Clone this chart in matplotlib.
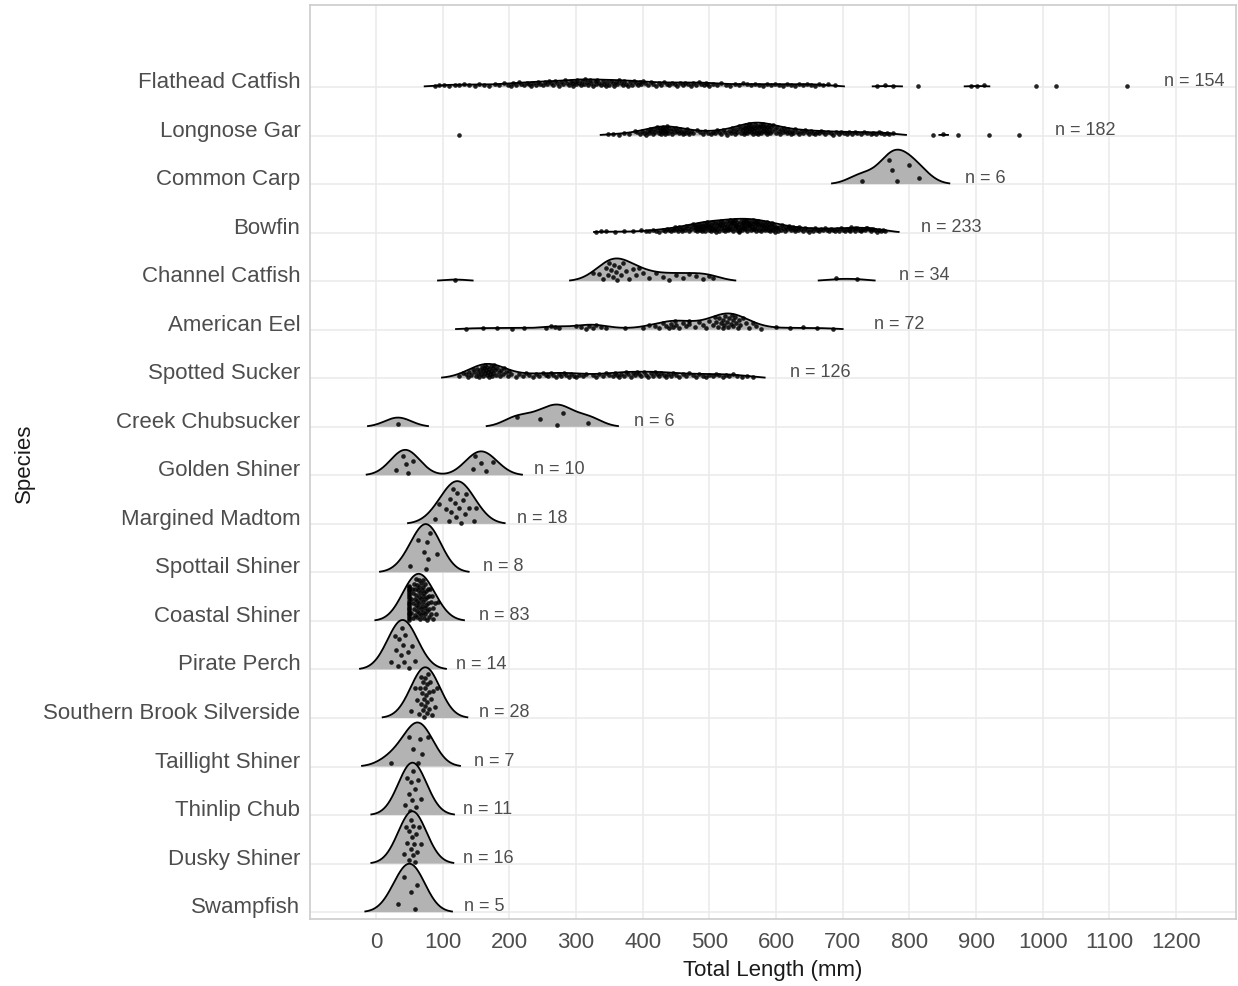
import matplotlib.pyplot as plt
import numpy as np

plt.rcParams['font.family'] = ['Liberation Sans', 'DejaVu Sans']

# species from top row to bottom row
species = ['Flathead Catfish', 'Longnose Gar', 'Common Carp', 'Bowfin',
           'Channel Catfish', 'American Eel', 'Spotted Sucker', 'Creek Chubsucker',
           'Golden Shiner', 'Margined Madtom', 'Spottail Shiner', 'Coastal Shiner',
           'Pirate Perch', 'Southern Brook Silverside', 'Taillight Shiner',
           'Thinlip Chub', 'Dusky Shiner', 'Swampfish']

# total lengths (mm)
flathead_catfish = [
    88, 95, 102, 110, 118, 125, 132, 140, 148, 155, 162, 170, 178, 185, 192, 198,
    202, 206, 210, 214, 218, 222, 226, 229, 232, 236, 240, 243, 246, 250, 253, 256,
    260, 263, 266, 269, 272, 275, 278, 281, 284, 287, 290, 292, 294, 296, 298, 300,
    302, 304, 307, 309, 312, 314, 316, 318, 321, 323, 325, 328, 330, 332, 335, 337,
    340, 342, 345, 347, 350, 352, 355, 357, 360, 362, 365, 367, 370, 372, 375, 378,
    381, 384, 387, 390, 393, 396, 398, 400,
    404, 408, 412, 416, 420, 424, 428, 432, 436, 440, 444, 448, 452, 456, 460, 464,
    468, 472, 476, 480, 484, 488, 492, 495, 497, 500,
    505, 512, 518, 525, 531, 538, 544, 550, 556, 562, 568, 574, 580, 586, 592, 598,
    604, 610, 616, 622, 628, 634, 640, 646, 652, 658, 664, 670, 678, 688,
    752, 764, 776, 813, 893, 901, 912, 990, 1020, 1127]
longnose_gar = [
    125, 348, 356, 364, 372, 380, 388,
    392, 396, 399, 402, 405, 407, 409, 411, 413, 415, 417, 419, 421, 423, 425, 426,
    427, 428, 429, 430, 431, 432, 433, 434, 435, 436, 437, 438, 440, 442, 444, 446,
    448, 450, 452, 454, 456, 458, 460, 462, 464, 466, 468, 470, 472,
    476, 481, 486, 490, 494, 498, 502, 505, 508, 511,
    514, 518, 521, 524, 527, 530, 532, 534, 536, 538, 540, 542, 544, 546, 548, 550,
    551, 552, 553, 554, 555, 556, 557, 558, 559, 560, 561, 562, 563, 564, 565, 566,
    567, 568, 569, 570, 571, 572, 573, 574, 575, 576, 577, 578, 579, 580, 581, 582,
    583, 584, 585, 586, 587, 588, 589, 590, 591, 592, 594, 596, 598, 600, 602, 604,
    606, 608, 610, 612, 614, 616, 618, 620, 622, 624, 626, 628, 631, 634, 637, 640,
    643, 646, 649, 652, 655, 658, 661, 664, 667, 670,
    674, 678, 682, 686, 690, 694, 698, 702, 706, 710, 714, 718, 722, 727, 732, 737,
    742, 746, 750, 754, 758, 762, 766, 770, 776,
    836, 851, 873, 919, 964]
common_carp = [729, 770, 774, 781, 800, 814]
bowfin = [
    330, 337, 345, 358, 372, 385, 397, 405, 410, 415, 420, 425,
    430, 433, 436, 439, 442, 445, 447, 449, 451, 453, 455, 457, 459, 461, 463, 465,
    467, 469, 471, 473, 475, 477, 478, 479, 480, 481, 482, 483, 484, 485, 486, 487,
    488, 489, 490, 491, 492, 493, 494, 495, 496, 497, 498, 499, 500,
    501, 502, 503, 504, 505, 506, 507, 508, 509, 510, 511, 512, 513, 514, 515, 516,
    517, 518, 519, 520, 521, 522, 523, 524, 525, 526, 527, 528, 529, 530, 531, 532,
    533, 534, 535, 536, 537, 538, 539, 540, 541, 542, 543, 544, 545, 546, 547, 548,
    549, 550, 551, 552, 553, 554, 555, 556, 557, 558, 559, 560, 561, 562, 563, 564,
    565, 566, 567, 568, 569, 570, 571, 572, 573, 574, 575, 576, 577, 578, 579, 580,
    581, 582, 583, 584, 585, 586, 587, 588, 589, 590, 591, 592, 593, 594, 595, 596,
    597, 598, 599, 600, 530, 535, 540, 545, 550, 552, 555, 560, 565, 570,
    601, 603, 605, 607, 609, 611, 613, 615, 617, 619, 621, 623, 625, 627, 629, 631,
    633, 635, 637, 640, 643, 646, 649, 652, 655, 658, 661, 664, 667, 670, 673, 676,
    679, 682, 685, 688, 691, 694, 697, 700, 703, 706,
    709, 712, 715, 718, 721, 724, 727, 730, 733, 736, 739, 742, 745, 748, 751, 754,
    757, 760, 763, 711, 719, 727, 735, 743]
channel_catfish = [
    119, 325, 335, 340, 345, 348, 350, 352, 355, 357, 360, 362, 365, 368, 370, 375,
    380, 385, 390, 395, 400, 410, 420, 430, 440, 450, 460, 470, 480, 490, 500, 505,
    690, 722]
american_eel = [
    135, 160, 182, 204, 222, 255, 262, 268, 275,
    300, 308, 315, 320, 325, 330, 338, 345, 373,
    400, 410, 418, 425, 430, 435, 440, 442, 445, 448, 450, 455, 460, 465, 470, 470,
    478, 485, 490, 495, 500, 505, 508, 510, 513, 515, 518, 520, 520, 522, 524, 526,
    528, 530, 532, 534, 535, 536, 538, 540, 543, 545, 546, 550, 555, 560, 565, 570,
    578, 600, 621, 640, 661, 685]
spotted_sucker = [
    125, 130, 135, 138, 140, 142, 145, 147, 150, 152, 153, 155, 156, 158, 159, 160,
    161, 162, 163, 164, 165, 166, 167, 168, 169, 170, 171, 172, 173, 174, 175, 176,
    177, 178, 180, 182, 184, 186, 188, 190, 192, 195, 198, 200, 203,
    210, 215, 220, 225, 230, 235, 240, 245, 250, 255, 258, 262, 265, 270, 275, 278,
    282, 285, 290, 293, 297, 300, 305, 310, 315,
    325, 330, 335, 340, 345, 350, 355, 358, 362, 365, 368, 372, 375, 378, 382, 385,
    388, 392, 395, 398, 402, 405, 408, 412, 415, 418, 422, 425, 428, 432, 435, 438,
    442, 445, 450, 455, 460, 465, 470, 475, 480, 485, 490, 495, 500,
    505, 510, 515, 520, 525, 530, 536, 542, 549, 557, 566]
creek_chubsucker = [33, 211, 246, 271, 281, 318]
golden_shiner = [30, 40, 45, 48, 55, 145, 148, 158, 165, 175]
margined_madtom = [88, 95, 105, 110, 111, 113, 115, 118, 120, 122, 125, 128, 130,
                   133, 135, 140, 147, 150]
spottail_shiner = [51, 63, 72, 75, 77, 78, 81, 91]
coastal_shiner = [
    50, 50, 50, 50, 50, 50, 50, 50, 50, 50, 50, 50, 50, 50, 50, 50, 50, 50, 50, 50,
    52, 53, 54, 55, 55, 56, 57, 57, 58, 58, 59, 60, 60, 60, 61, 61, 62, 62, 63, 63,
    64, 64, 65, 65, 65, 66, 66, 67, 67, 68, 68, 69, 69, 70, 70, 70, 71, 71, 72, 72,
    73, 73, 74, 74, 75, 75, 76, 76, 77, 78, 78, 79, 80, 80, 81, 82, 83, 84, 85, 86,
    88, 90, 93]
pirate_perch = [22, 28, 30, 33, 35, 37, 39, 40, 42, 44, 48, 50, 54, 58]
southern_brook_silverside = [52, 58, 62, 64, 66, 67, 68, 69, 70, 71, 72, 72, 73, 74,
                             74, 75, 76, 76, 77, 78, 79, 80, 81, 82, 84, 86, 88, 92]
taillight_shiner = [23, 50, 55, 63, 66, 69, 78]
thinlip_chub = [44, 47, 49, 51, 53, 54, 56, 58, 60, 63, 68]
dusky_shiner = [42, 45, 47, 49, 50, 52, 53, 54, 55, 56, 57, 58, 60, 62, 65, 68]
swampfish = [33, 42, 52, 58, 62]

lengths = [flathead_catfish, longnose_gar, common_carp, bowfin, channel_catfish,
           american_eel, spotted_sucker, creek_chubsucker, golden_shiner,
           margined_madtom, spottail_shiner, coastal_shiner, pirate_perch,
           southern_brook_silverside, taillight_shiner, thinlip_chub, dusky_shiner,
           swampfish]

x_ticks = [0, 100, 200, 300, 400, 500, 600, 700, 800, 900, 1000, 1100, 1200]

# ridge settings (joint bandwidth, cut-off relative to the tallest ridge)
bw = 20.0
rel_min_height = 0.013
ridge_scale = 1.08

grid = np.linspace(-100, 1300, 1401)


def kde(vals):
    v = np.asarray(vals, dtype=float)
    z = (grid[:, None] - v[None, :]) / bw
    return np.exp(-0.5 * z**2).sum(axis=1) / (len(v) * bw * np.sqrt(2 * np.pi))


dens = [kde(v) for v in lengths]
gmax = max(d.max() for d in dens)

fig = plt.figure(figsize=(12.38, 9.87), dpi=100)
ax = fig.add_axes([0.2504, 0.0679, 0.748, 0.926])

n_rows = len(species)
for i, (name, vals, d) in enumerate(zip(species, lengths, dens)):
    base = n_rows - i
    h = d / gmax * ridge_scale
    h_masked = np.where(d >= rel_min_height * gmax, h, np.nan)
    z = 3 + i
    ax.fill_between(grid, base, base + h_masked, facecolor='#b3b3b3',
                    edgecolor='none', zorder=z)
    ax.plot(grid, base + h_masked, color='black', lw=1.3, zorder=z + 0.1)

    # points placed inside the ridge (sina style)
    v = np.asarray(vals, dtype=float)
    hv = np.interp(v, grid, np.nan_to_num(h_masked))
    u = (np.arange(len(v)) * 0.6180339887 + 0.21) % 1.0
    ax.scatter(v, base + 0.02 + u * 0.9 * hv, s=11, color='black', alpha=0.85,
               linewidths=0, zorder=z + 0.2)

    ax.text(max(vals) + 100, base + 0.04, f'n = {len(vals)}', ha='center',
            va='baseline', fontsize=13, color='#4d4d4d', zorder=50)

ax.set_xlim(-99, 1290)
ax.set_ylim(0.86, 19.69)
ax.set_xticks(x_ticks)
ax.set_xticklabels([str(t) for t in x_ticks])
ax.set_yticks(np.arange(n_rows, 0, -1))
ax.set_yticklabels(species)
for lab in ax.get_yticklabels():
    lab.set_va('baseline')

ax.tick_params(axis='both', length=0, labelsize=16, colors='#4d4d4d')
ax.tick_params(axis='y', pad=7)
ax.tick_params(axis='x', pad=9)
ax.grid(True, color='#ebebeb', lw=1.2, zorder=0)
ax.set_axisbelow(True)
for s in ax.spines.values():
    s.set_color('#cccccc')
    s.set_linewidth(1.2)

ax.set_xlabel('Total Length (mm)', fontsize=16, color='#1a1a1a', labelpad=5)
ax.set_ylabel('Species', fontsize=16, color='#1a1a1a', labelpad=6)

fig.savefig('out.png', dpi=100)
